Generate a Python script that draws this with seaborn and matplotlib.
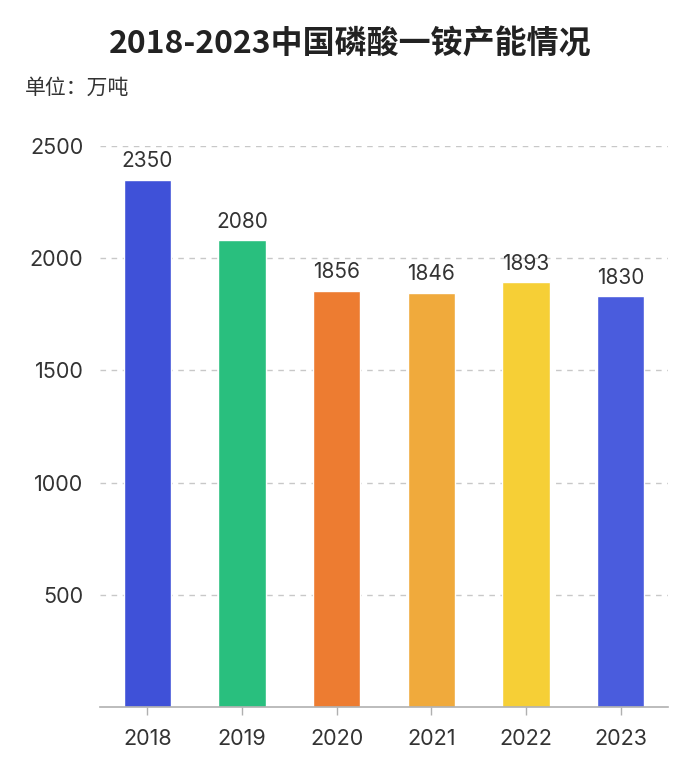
import matplotlib
matplotlib.use("Agg")
import matplotlib.pyplot as plt
import seaborn as sns
import pandas as pd

years = ["2018", "2019", "2020", "2021", "2022", "2023"]
capacity = [2350, 2080, 1856, 1846, 1893, 1830]
colors = ["#3F51D8", "#29BF7E", "#ED7C31", "#F0AA3C", "#F6CF36", "#4A5CDD"]
title = "2018-2023中国磷酸一铵产能情况"
unit_label = "单位：万吨"
yticks = [500, 1000, 1500, 2000, 2500]

sns.set_theme(style="white")
plt.rcParams["font.family"] = ["Noto Sans CJK SC", "DejaVu Sans"]
num_font = ["Inter", "Noto Sans CJK SC", "DejaVu Sans"]

df = pd.DataFrame({"year": years, "value": capacity})

fig = plt.figure(figsize=(7, 7.74), dpi=100)
ax = fig.add_axes([100 / 700, 1 - 707 / 774, 568 / 700, (707 - 146) / 774])

sns.barplot(data=df, x="year", y="value", hue="year", palette=colors,
            width=0.5, legend=False, ax=ax, saturation=1)

ax.set_ylim(0, 2500)
ax.set_xlim(-0.5, 5.5)
ax.set_yticks(yticks)
ax.set_yticklabels([str(v) for v in yticks], fontsize=15.5, color="#333333",
                   family=num_font)
ax.set_xticks(range(len(years)))
ax.set_xticklabels(years, fontsize=15.5, color="#333333", family=num_font)
ax.set_xlabel("")
ax.set_ylabel("")
ax.yaxis.grid(True, linestyle=(0, (4, 4)), color="#c8c8c8", linewidth=1)
ax.set_axisbelow(True)
for s in ["left", "right", "top"]:
    ax.spines[s].set_visible(False)
ax.spines["bottom"].set_color("#b0b0b0")
ax.spines["bottom"].set_linewidth(1.2)
ax.tick_params(axis="y", length=0, pad=12)
ax.tick_params(axis="x", length=6, color="#b0b0b0", width=1, pad=10,
               direction="out", bottom=True)

for i, v in enumerate(capacity):
    ax.text(i, v + 38, str(v), ha="center", va="bottom", fontsize=15,
            color="#333333", family=num_font)

fig.text(0.5, 1 - 45 / 774, title, ha="center", va="center", fontsize=23,
         fontweight="bold", color="#222222")
fig.text(25 / 700, 1 - 88 / 774, unit_label, ha="left", va="center", fontsize=15,
         color="#333333")

fig.savefig("out.png", dpi=100)
